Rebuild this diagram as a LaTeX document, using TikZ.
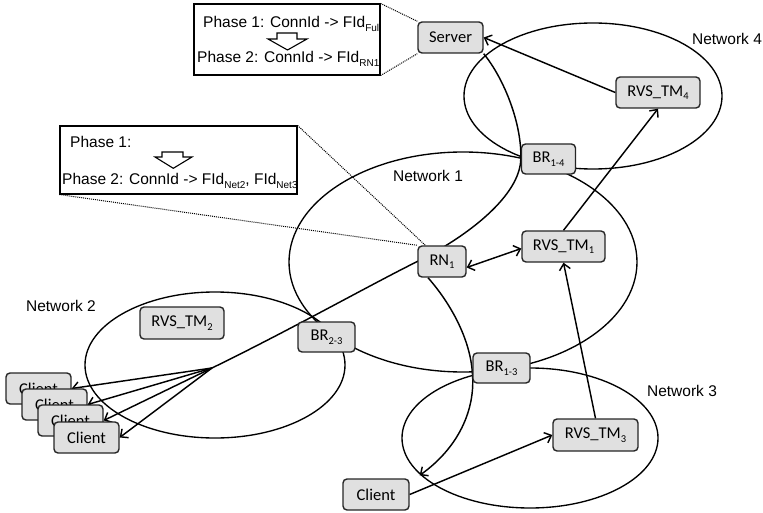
\documentclass[tikz,border=0pt]{standalone}
\usepackage{fontspec}
\setmainfont{Liberation Sans}
\newfontfamily\boxfont{Carlito}
\usetikzlibrary{arrows.meta}
\pgfdeclarelayer{bg}
\pgfsetlayers{bg,main}
\definecolor{boxfill}{RGB}{224,224,224}
% lowered small text for subscripts
\newcommand{\subA}[1]{\raisebox{-3.5pt}{\fontsize{10}{10}\selectfont #1}}
\newcommand{\subB}[1]{\raisebox{-3.5pt}{\fontsize{10.5}{10}\selectfont #1}}

\begin{document}
\begin{tikzpicture}[x=1pt,y=-1pt,
  box/.style={draw=black!85, fill=boxfill, rounded corners=4pt, line width=1.4pt,
    inner sep=0pt, minimum height=30pt, font=\boxfont\fontsize{16.5}{18}\selectfont},
  net/.style={line width=1.35pt},
  link/.style={line width=1.45pt},
  tip/.style={-{Straight Barb[length=6pt,width=11pt,line width=1.45pt]}},
  both/.style={{Straight Barb[length=6pt,width=11pt,line width=1.45pt]}-{Straight Barb[length=6pt,width=11pt,line width=1.45pt]}},
  note/.style={draw, line width=1.1pt, inner sep=0pt, fill=white},
  lbl/.style={font=\fontsize{15.5}{18}\selectfont, inner sep=0pt},
  guide/.style={line width=1pt, dash pattern=on 1pt off 1pt},
  blockarrow/.style={draw, line width=1.1pt, fill=white}
]
\useasboundingbox (0,0) rectangle (763,513);

% ---- notes ----
\node[note, minimum width=186pt, minimum height=71pt] (noteA) at (287,39.5) {};
\node[lbl, anchor=base west] (noteAa) at (203,28) {Phase 1: ConnId -> FId\subA{Full}};
\node[lbl, anchor=base west] (noteAb) at (197,63) {Phase 2: ConnId -> FId\subA{RN1}};
\draw[blockarrow] (277,33) -- (297,33) -- (297,39) -- (307,39) -- (287.5,50) -- (268,39) -- (277,39) -- cycle;

\node[note, minimum width=237pt, minimum height=68pt] (noteB) at (178.5,160) {};
\node[lbl, anchor=base west] (noteBa) at (70,148) {Phase 1:};
\node[lbl, anchor=base west] (noteBb) at (62,185) {Phase 2: ConnId -> FId\subA{Net2}, FId\subA{Net3}};
\draw[blockarrow] (162,152) -- (183,152) -- (183,157) -- (192,157) -- (173.3,168.3) -- (155,157) -- (162,157) -- cycle;

% ---- network labels ----
\node[lbl] (lnet1) at (428,176) {Network 1};
\node[lbl] (lnet2) at (61,306) {Network 2};
\node[lbl] (lnet3) at (682,391) {Network 3};
\node[lbl] (lnet4) at (727,39) {Network 4};

% ---- boxes ----
\node[box, minimum width=65pt, minimum height=31pt] (Server) at (450.5,37.5) {Server};
\node[box, minimum width=54pt] (BR14) at (548.5,159) {BR\subB{1-4}};
\node[box, minimum width=84pt, minimum height=31pt] (TM4) at (658,92.5) {RVS\_TM\subB{4}};
\node[box, minimum width=48pt, minimum height=31pt] (RN1) at (442,261.5) {RN\subB{1}};
\node[box, minimum width=83pt, minimum height=31pt] (TM1) at (563.5,246.5) {RVS\_TM\subB{1}};
\node[box, minimum width=57pt] (BR23) at (326.5,337) {BR\subB{2-3}};
\node[box, minimum width=57pt] (BR13) at (501.5,368) {BR\subB{1-3}};
\node[box, minimum width=84pt, minimum height=32pt] (TM2) at (182,323) {RVS\_TM\subB{2}};
\node[box, minimum width=85pt, minimum height=32pt] (TM3) at (595.5,435) {RVS\_TM\subB{3}};
\node[box, minimum width=66pt, minimum height=31pt] (Cl) at (376,494.5) {Client};
\node[box, minimum width=65pt, minimum height=31pt] (C1) at (38.5,388.5) {Client};
\node[box, minimum width=65pt, minimum height=31pt] (C2) at (54.5,404.5) {Client};
\node[box, minimum width=65pt, minimum height=31pt] (C3) at (70.5,420.5) {Client};
\node[box, minimum width=65pt, minimum height=31pt] (C4) at (86.5,437.5) {Client};

\coordinate (fan) at (212,368);

\begin{pgfonlayer}{bg}
  % network boundaries
  \draw[net] (463,262) ellipse [x radius=174pt, y radius=110pt];
  \draw[net] (215,365) ellipse [x radius=130pt, y radius=73pt];
  \draw[net] (530,438) ellipse [x radius=128pt, y radius=70pt];
  \draw[net] (593,96) ellipse [x radius=129pt, y radius=73pt];

  % route from the server through the relay to the client group
  \draw[link] (Server.south east) .. controls (505,80) and (522,125) .. (BR14.west)
    .. controls (520,195) and (470,235) .. (RN1.west)
    .. controls (370,285) and (290,330) .. (fan);
  \foreach \c in {C1,C2,C3,C4} \draw[link,tip] (fan) -- (\c.east);

  % route from the relay to the single client
  \draw[link,tip] ([xshift=-14pt]RN1.south) .. controls (452,305) and (470,340) .. ([yshift=-4pt]BR13.west)
    .. controls (476,410) and (458,448) .. ([xshift=10pt,yshift=3pt]Cl.north east);

  % dotted guides to the notes
  \draw[guide] (noteA.north east) -- (Server.north west);
  \draw[guide] (noteA.south east) -- (Server.south west);
  \draw[guide] (noteB.north east) -- ([xshift=8pt]RN1.north west);
  \draw[guide] (noteB.south west) -- (RN1.north west);
\end{pgfonlayer}

% ---- signalling arrows ----
\draw[link,tip] (TM4.west) -- (Server.east);
\draw[link,tip] (Cl.east) -- (TM3.west);
\draw[link,tip] (TM3.north) -- (TM1.south);
\draw[link,tip] (TM1.north) -- (TM4.south);
\draw[link,both] ([yshift=-6pt]RN1.east) -- ([yshift=-2pt]TM1.west);
\end{tikzpicture}
\end{document}
